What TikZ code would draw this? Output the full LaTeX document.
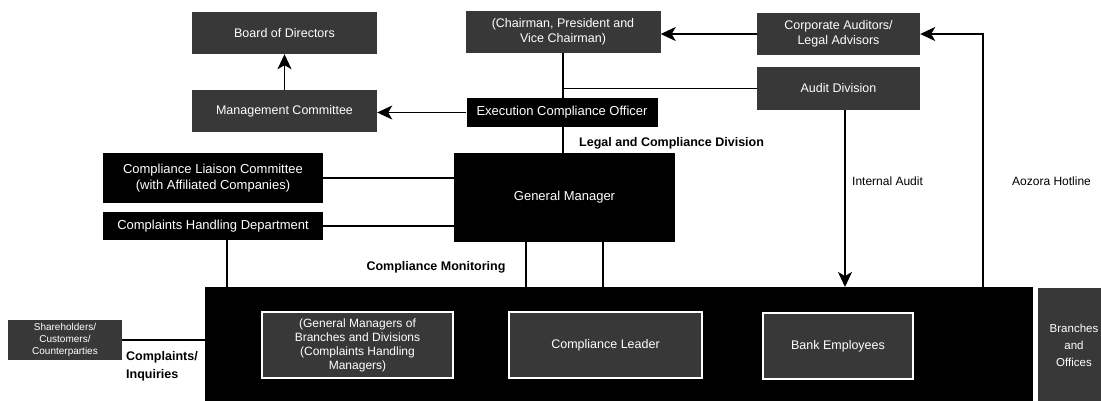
\documentclass[tikz,border=0pt]{standalone}
\usepackage{fontspec}
\setmainfont{Liberation Sans}
\usetikzlibrary{arrows.meta,backgrounds}
\begin{document}
\begin{tikzpicture}[x=1pt,y=-1pt,
  darkbox/.style={fill=black, text=white, inner sep=0pt, align=center, font=\fontsize{13}{15.5}\selectfont},
  noisy/.style={fill=black!78, text=white, inner sep=0pt, align=center, font=\fontsize{12.5}{14.5}\selectfont},
  innerbox/.style={noisy, draw=white, line width=1.2pt},
  conn/.style={line width=1.8pt},
  arr/.style={conn, -{Stealth[length=15pt,width=14pt,inset=4pt]}},
  lbl/.style={inner sep=0pt, font=\bfseries\fontsize{12.5}{18}\selectfont},
  lbltwo/.style={inner sep=0pt, font=\fontsize{12}{14}\selectfont}]
\useasboundingbox (0,0) rectangle (1101,400);
\clip (0,0) rectangle (1101,400);
% top row
\node[noisy, minimum width=185, minimum height=42] (board) at (284.5,33) {Board of Directors};
\node[noisy, minimum width=185, minimum height=42] (mgmt) at (284.5,111) {Management Committee};
\node[noisy, minimum width=195, minimum height=42] (chair) at (563,32) {(Chairman, President and\\Vice Chairman)};
\node[noisy, minimum width=163, minimum height=42] (corp) at (838.5,34) {Corporate Auditors/\\Legal Advisors};
\node[noisy, minimum width=163, minimum height=43] (audit) at (838.5,88.5) {Audit Division};
\node[darkbox, minimum width=191, minimum height=29] (exec) at (562,112.5) {Execution Compliance Officer};
% middle
\node[darkbox, minimum width=220, minimum height=50] (liaison) at (213,178) {Compliance Liaison Committee\\(with Affiliated Companies)};
\node[darkbox, minimum width=220, minimum height=28] (compl) at (213,226) {Complaints Handling Department};
\node[darkbox, minimum width=221, minimum height=89] (gm) at (564.5,197.5) {General Manager};
% bottom
\node[fill=black, minimum width=828, minimum height=115, inner sep=0pt] (bottom) at (619,344.5) {};
\node[noisy, minimum width=114, minimum height=40, font=\fontsize{10}{12}\selectfont] (cust) at (65,340) {Shareholders/\\Customers/\\Counterparties};
\node[innerbox, minimum width=191, minimum height=66, font=\fontsize{12}{14}\selectfont] (gms) at (357.5,345) {(General Managers of\\Branches and Divisions\\(Complaints Handling\\Managers)};
\node[innerbox, minimum width=193, minimum height=66] (cl) at (605.5,345) {Compliance Leader};
\node[innerbox, minimum width=150, minimum height=66] (be) at (838,346) {Bank Employees};
\node[noisy, minimum width=72, minimum height=114, font=\fontsize{11.5}{17}\selectfont] (branch) at (1074,345) {Branches\\and\\Offices};
% labels
\node[lbl, anchor=west] (lcd) at (579,143) {Legal and Compliance Division};
\node[lbl] (cm) at (436,267) {Compliance Monitoring};
\node[lbltwo, anchor=west] (ial) at (852,181) {Internal Audit};
\node[lbltwo, anchor=west] (hll) at (1012,181) {Aozora Hotline};
\node[lbl, anchor=west, align=left] (ci) at (126,366) {Complaints/\\Inquiries};
% connector end points
\coordinate (hl) at (983,287);
\coordinate (ia) at (845,287);
\coordinate (cd) at (227,287);
\coordinate (ga) at (526,287);
\coordinate (gb) at (603,287);
\begin{pgfonlayer}{background}
\draw[arr] (mgmt.north) -- (board.south);
\draw[arr] (exec.west) -- (exec.west -| mgmt.east);
\draw[arr] (corp.west) -- (corp.west -| chair.east);
\draw[arr] (hl) |- (corp.east);
\draw[arr] (audit.south -| ia) -- (ia);
\draw[conn] (chair.south) -- (chair.south |- gm.north);
\draw[conn] (chair.south |- audit.west) -- (audit.west);
\draw[conn] (liaison.east) -- (liaison.east -| gm.west);
\draw[conn] (compl.east) -- (compl.east -| gm.west);
\draw[conn] (compl.south -| cd) -- (cd);
\draw[conn] (gm.south -| ga) -- (ga);
\draw[conn] (gm.south -| gb) -- (gb);
\draw[conn] (cust.east) -- (cust.east -| bottom.west);
\end{pgfonlayer}
\end{tikzpicture}
\end{document}
